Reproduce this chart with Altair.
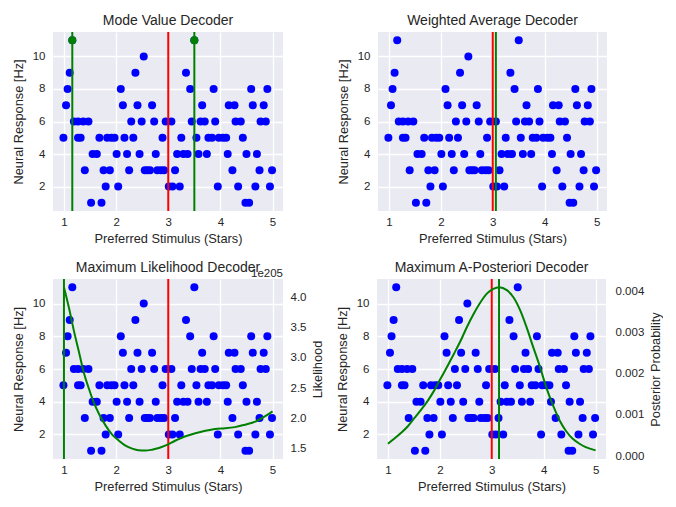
import altair as alt
import pandas as pd

# ---- neuron data: preferred stimulus (stars) grouped by neural response (Hz)
STIM_AT_11 = [1.16, 3.50]
STIM_AT_10 = [2.53]
STIM_AT_9 = [1.11, 2.37, 3.34]
STIM_AT_8 = [1.07, 2.09, 3.42, 3.87, 4.59, 4.90]
STIM_AT_7 = [1.04, 2.13, 2.41, 2.69, 3.65, 4.16, 4.27, 4.62, 4.83]
STIM_AT_6 = [1.19, 1.27, 1.37, 1.47, 2.29, 2.49, 2.73, 2.95, 3.06, 3.45, 3.62,
             3.70, 3.90, 4.29, 4.39, 4.77, 4.87]
STIM_AT_5 = [0.99, 1.27, 1.32, 1.68, 1.83, 1.91, 1.97, 2.16, 2.33, 2.89, 3.25,
             3.54, 3.77, 3.84, 3.97, 4.05, 4.11, 4.43]
STIM_AT_4 = [1.55, 1.63, 2.01, 2.21, 2.45, 2.76, 3.17, 3.29, 3.37, 3.58, 3.74,
             4.14, 4.50, 4.70]
STIM_AT_3 = [1.40, 1.76, 1.88, 2.25, 2.55, 2.60, 2.65, 2.79, 2.86, 2.92, 3.13,
             4.23, 4.75, 4.99]
STIM_AT_2 = [1.80, 2.04, 3.01, 3.08, 3.22, 3.95, 4.34, 4.67, 4.95]
STIM_AT_1 = [1.52, 1.72, 4.48, 4.55]
RESPONSE_LEVELS = [11, 10, 9, 8, 7, 6, 5, 4, 3, 2, 1]
STIM_LISTS = [STIM_AT_11, STIM_AT_10, STIM_AT_9, STIM_AT_8, STIM_AT_7, STIM_AT_6,
              STIM_AT_5, STIM_AT_4, STIM_AT_3, STIM_AT_2, STIM_AT_1]

# ---- decoder estimates
TRUE_STIM = [3.0]
MODE_EST = [1.16, 3.50]
MODE_RESP = [11, 11]
WAVG_EST = [3.06]
ML_EST = [1.0]
MAP_EST = [3.14]

# ---- likelihood curve (x 1e205)
LIK_X = [1.00, 1.10, 1.19, 1.29, 1.38, 1.48, 1.57, 1.67, 1.80, 1.92, 2.05, 2.18,
         2.31, 2.43, 2.56, 2.69, 2.82, 2.94, 3.14, 3.33, 3.52, 3.71, 3.90, 4.09,
         4.28, 4.47, 4.67, 4.86, 5.00]
LIK_Y = [4.165, 3.81, 3.45, 3.09, 2.76, 2.49, 2.27, 2.08, 1.885, 1.74, 1.64, 1.555,
         1.505, 1.478, 1.473, 1.489, 1.516, 1.555, 1.64, 1.71, 1.76, 1.80, 1.83,
         1.84, 1.86, 1.90, 1.95, 2.04, 2.12]

# ---- posterior curve
POST_X = [1.00, 1.12, 1.25, 1.38, 1.50, 1.63, 1.76, 1.89, 2.01, 2.14, 2.27, 2.40,
          2.52, 2.65, 2.78, 2.91, 3.03, 3.14, 3.29, 3.42, 3.55, 3.67, 3.80, 3.93,
          4.05, 4.18, 4.31, 4.43, 4.56, 4.69, 4.81, 5.00]
POST_Y = [0.00030, 0.00042, 0.00056, 0.00072, 0.00091, 0.00111, 0.00133, 0.00159,
          0.00187, 0.00217, 0.00248, 0.00280, 0.00313, 0.00345, 0.00373, 0.00395,
          0.00406, 0.00410, 0.00403, 0.00385, 0.00353, 0.00313, 0.00264, 0.00216,
          0.00167, 0.00123, 0.00086, 0.00061, 0.00042, 0.00030, 0.00022, 0.00014]

X_TICKS = [1, 2, 3, 4, 5]
Y_TICKS = [2, 4, 6, 8, 10]
LIK_TICKS = [1.5, 2.0, 2.5, 3.0, 3.5, 4.0]
POST_TICKS = [0.0, 0.001, 0.002, 0.003, 0.004]
TITLES = ["Mode Value Decoder", "Weighted Average Decoder",
          "Maximum Likelihood Decoder", "Maximum A-Posteriori Decoder"]

FONT = "Liberation Sans"
TXT = "#262626"
BLUE = "#0000FF"
RED = "#FF0000"
GREEN = "#008000"
DOT = 64
W, H = 230, 179

rows = []
for r, lst in zip(RESPONSE_LEVELS, STIM_LISTS):
    for s in lst:
        rows.append({"stim": s, "resp": r})
neurons = pd.DataFrame(rows)


def x_enc(field):
    return alt.X(f"{field}:Q",
                 scale=alt.Scale(domain=[0.79, 5.2], nice=False, zero=False),
                 axis=alt.Axis(values=X_TICKS, format="d",
                               title="Preferred Stimulus (Stars)",
                               labelPadding=5, titlePadding=5))


def y_enc(field):
    return alt.Y(f"{field}:Q",
                 scale=alt.Scale(domain=[0.5, 11.5], nice=False, zero=False),
                 axis=alt.Axis(values=Y_TICKS, format="d",
                               title="Neural Response [Hz]",
                               labelPadding=8, titlePadding=7))


def scatter():
    return alt.Chart(neurons).mark_circle(size=DOT, color=BLUE, opacity=1).encode(
        x=x_enc("stim"), y=y_enc("resp"))


def vline(values, color):
    return alt.Chart(pd.DataFrame({"v": values})).mark_rule(
        color=color, strokeWidth=2).encode(x=x_enc("v"))


def title_text(t, width):
    return alt.Chart(pd.DataFrame({"t": [t]})).mark_text(
        font=FONT, fontSize=14, color=TXT, baseline="alphabetic",
        align="center").encode(text="t:N", x=alt.value(width / 2), y=alt.value(-7))


# Panel 1
mode_dots = alt.Chart(pd.DataFrame({"s": MODE_EST, "r": MODE_RESP})).mark_circle(
    size=DOT, color=GREEN, opacity=1).encode(x=x_enc("s"), y=y_enc("r"))
p1 = alt.layer(scatter(), vline(TRUE_STIM, RED), vline(MODE_EST, GREEN), mode_dots,
               title_text(TITLES[0], W)).properties(width=W, height=H)

# Panel 2
p2 = alt.layer(scatter(), vline(TRUE_STIM, RED), vline(WAVG_EST, GREEN),
               title_text(TITLES[1], W - 1)).properties(width=W - 1, height=H)

# Panel 3
lik_curve = alt.Chart(pd.DataFrame({"x": LIK_X, "L": LIK_Y})).mark_line(
    color=GREEN, strokeWidth=2, interpolate="monotone").encode(
    x=x_enc("x"),
    y=alt.Y("L:Q", scale=alt.Scale(domain=[1.335, 4.30], nice=False, zero=False),
            axis=alt.Axis(orient="right", values=LIK_TICKS, format=".1f",
                          title="Likelihood", grid=False, labelPadding=7,
                          titlePadding=6, titleAngle=270, titleBaseline="top")))
exp_text = alt.Chart(pd.DataFrame({"t": ["1e205"]})).mark_text(
    font=FONT, fontSize=11.5, color=TXT, align="right", baseline="alphabetic").encode(
    text="t:N", x=alt.value(W), y=alt.value(-2))
left3 = alt.layer(scatter(), vline(TRUE_STIM, RED), vline(ML_EST, GREEN),
                  title_text(TITLES[2], W), exp_text)
p3 = alt.layer(left3, lik_curve).resolve_scale(y="independent").properties(
    width=W, height=H + 1)

# Panel 4
post_curve = alt.Chart(pd.DataFrame({"x": POST_X, "P": POST_Y})).mark_line(
    color=GREEN, strokeWidth=2, interpolate="monotone").encode(
    x=x_enc("x"),
    y=alt.Y("P:Q", scale=alt.Scale(domain=[-0.00007, 0.0043], nice=False, zero=False),
            axis=alt.Axis(orient="right", values=POST_TICKS, format=".3f",
                          title="Posterior Probability", grid=False, labelPadding=9,
                          titlePadding=6, titleAngle=270, titleBaseline="top")))
left4 = alt.layer(scatter(), vline(TRUE_STIM, RED), vline(MAP_EST, GREEN),
                  title_text(TITLES[3], W - 1))
p4 = alt.layer(left4, post_curve).resolve_scale(y="independent").properties(
    width=W - 1, height=H + 1)

row1 = alt.hconcat(p1, p2, spacing=54)
row2 = alt.hconcat(p3, p4, spacing=11)

chart = alt.vconcat(row1, row2, spacing=15).properties(
    padding={"left": 4, "top": 6, "right": 0, "bottom": 0},
    background="white",
).configure_view(fill="#EAEAF2", stroke=None).configure_axis(
    domain=False, ticks=False, grid=True, gridColor="white", gridWidth=1.3,
    gridOpacity=1, labelFont=FONT, labelFontSize=11.5, labelColor=TXT,
    titleFont=FONT, titleFontSize=12.8, titleFontWeight="normal", titleColor=TXT)

chart.save("out.html", embed_options={"renderer": "svg", "actions": False})
